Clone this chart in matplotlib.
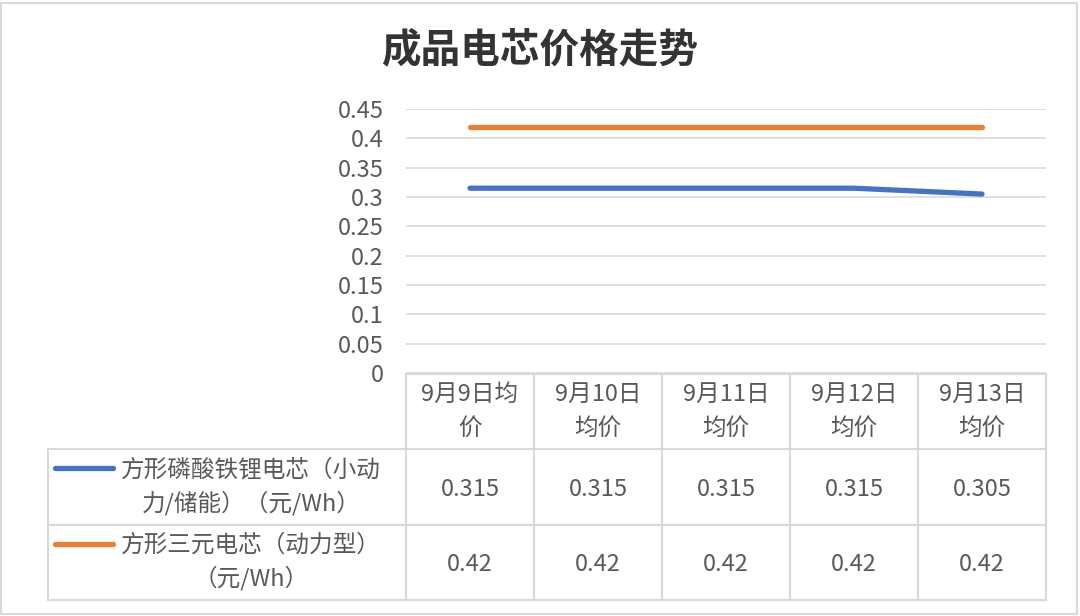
import matplotlib
matplotlib.use("Agg")
import matplotlib.pyplot as plt
from matplotlib.patches import Rectangle

plt.rcParams['font.family'] = ['Noto Sans CJK SC', 'DejaVu Sans']

# data
dates = ['9月9日均\n价', '9月10日\n均价', '9月11日\n均价', '9月12日\n均价', '9月13日\n均价']
lfp = [0.315, 0.315, 0.315, 0.315, 0.305]
ncm = [0.42, 0.42, 0.42, 0.42, 0.42]
series_names = ['方形磷酸铁锂电芯（小动\n力/储能）（元/Wh）',
                '方形三元电芯（动力型）\n（元/Wh）']
series_vals = [lfp, ncm]
colors = ['#4472C4', '#ED7D31']
yticks = [0, 0.05, 0.1, 0.15, 0.2, 0.25, 0.3, 0.35, 0.4, 0.45]

W, H = 1080, 616
grid_c = '#D9D9D9'
text_c = '#595959'
fs = 17

fig = plt.figure(figsize=(W / 100, H / 100), dpi=100)

# outer chart border
fig.patches.append(Rectangle((1 / W, 2 / H), 1076 / W, 611 / H, transform=fig.transFigure,
                             fill=False, edgecolor=grid_c, linewidth=1.5))

fig.text(540 / W, 1 - 50 / H, '成品电芯价格走势', ha='center', va='center',
         fontsize=28.5, fontweight='bold', color='#333333')

# plot area
ax = fig.add_axes([406 / W, 1 - 373 / H, 640 / W, 264 / H])
x = range(len(dates))
for vals, c in zip(series_vals, colors):
    ax.plot(x, vals, color=c, linewidth=3.8, solid_capstyle='round')
ax.set_xlim(-0.5, len(dates) - 0.5)
ax.set_ylim(0, 0.45)
ax.set_yticks(yticks)
ax.set_yticklabels(['%g' % v for v in yticks], fontsize=fs, color=text_c)
ax.set_xticks([])
ax.tick_params(axis='y', length=0, pad=16)
for s in ax.spines.values():
    s.set_visible(False)
ax.grid(axis='y', color=grid_c, linewidth=1.2)
ax.set_axisbelow(True)

# data table
left_w = (406 - 48) / 128
tax = fig.add_axes([48 / W, 1 - 600 / H, (1046 - 48) / W, 226 / H])
n = len(dates)
tax.set_xlim(-0.5 - left_w, n - 0.5)
tax.set_ylim(3, 0)
tax.axis('off')
lw = 1.5
tax.plot([-0.5, n - 0.5], [0, 0], color=grid_c, lw=lw, clip_on=False)
for r in [1, 2, 3]:
    tax.plot([-0.5 - left_w, n - 0.5], [r, r], color=grid_c, lw=lw, clip_on=False)
for i in range(n + 1):
    tax.plot([i - 0.5, i - 0.5], [0, 3], color=grid_c, lw=lw, clip_on=False)
tax.plot([-0.5 - left_w, -0.5 - left_w], [1, 3], color=grid_c, lw=lw, clip_on=False)

for i, d in enumerate(dates):
    tax.text(i, 0.5, d, ha='center', va='center', fontsize=fs, color=text_c, linespacing=1.6)

for r, (name, vals, c) in enumerate(zip(series_names, series_vals, colors)):
    yr = r + 1.5
    for i, v in enumerate(vals):
        tax.text(i, yr + 0.03, str(v), ha='center', va='center', fontsize=fs, color=text_c)
    # legend key
    k0 = -0.5 - left_w + 7 / 128
    k1 = -0.5 - left_w + 65 / 128
    tax.plot([k0, k1], [yr - 0.25, yr - 0.25], color=c, lw=3.8, solid_capstyle='round',
             clip_on=False)
    tax.text(-0.5 - left_w + 203 / 128, yr + 0.0, name, ha='center', va='center',
             fontsize=fs, color=text_c, linespacing=1.45)

fig.savefig('out.png', dpi=100)
